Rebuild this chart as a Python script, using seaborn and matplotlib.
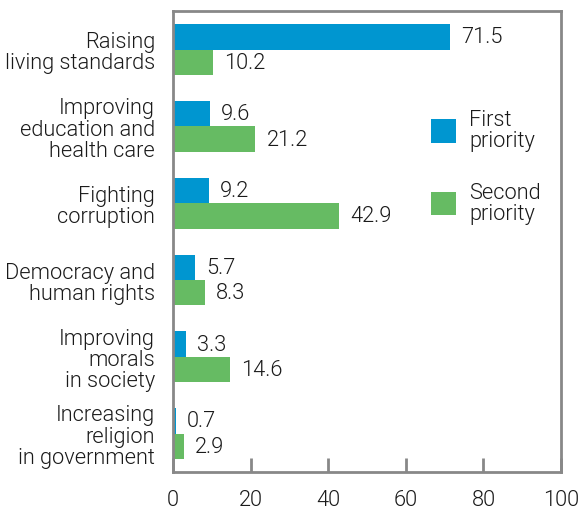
import pandas as pd
import numpy as np
import seaborn as sns
import matplotlib.pyplot as plt

categories = ["Raising\nliving standards", "Improving\neducation and\nhealth care",
              "Fighting\ncorruption", "Democracy and\nhuman rights",
              "Improving\nmorals\nin society", "Increasing\nreligion\nin government"]
first_priority = [71.5, 9.6, 9.2, 5.7, 3.3, 0.7]
second_priority = [10.2, 21.2, 42.9, 8.3, 14.6, 2.9]
series = ["First\npriority", "Second\npriority"]
colors = ["#0096d0", "#66bb63"]

df = pd.DataFrame({
    "cat": categories * 2,
    "val": first_priority + second_priority,
    "series": [series[0]] * len(categories) + [series[1]] * len(categories),
})

sns.set_style("white")
plt.rcParams['font.family'] = ['Roboto', 'DejaVu Sans']
plt.rcParams['font.weight'] = 300
fs = 15.7
txt = "#1a1a1a"

fig = plt.figure(figsize=(5.79, 5.10), dpi=100)
ax = fig.add_axes([0.2988, 0.0725, 0.6702, 0.9035])

sns.barplot(data=df, y="cat", x="val", hue="series", palette=colors,
            orient="h", width=0.66, gap=0.0, saturation=1, linewidth=0, ax=ax)

for cont in ax.containers:
    ax.bar_label(cont, fmt="%.1f", padding=8, fontsize=fs, color=txt)

ax.set_xlim(0, 100)
ax.set_xticks([0, 20, 40, 60, 80, 100])
ax.tick_params(axis="x", bottom=True, direction="in", length=10, width=2, color="#888888",
               labelsize=fs, pad=12, labelcolor=txt)
ax.tick_params(axis="y", left=False, length=0, labelsize=fs, pad=13, labelcolor=txt)
for lab in ax.get_yticklabels():
    lab.set_horizontalalignment("right")
    lab.set_multialignment("right")
    lab.set_linespacing(1.02)
ax.set_xlabel("")
ax.set_ylabel("")
for s in ax.spines.values():
    s.set_visible(True)
    s.set_color("#888888")
    s.set_linewidth(2)

leg = ax.legend(loc="upper left", bbox_to_anchor=(0.615, 0.83), frameon=False,
                fontsize=fs, handlelength=1.15, handleheight=1.3, labelspacing=1.4,
                handletextpad=0.6)
for t in leg.get_texts():
    t.set_color(txt)
    t.set_linespacing(1.0)

fig.savefig("out.png", dpi=100)
